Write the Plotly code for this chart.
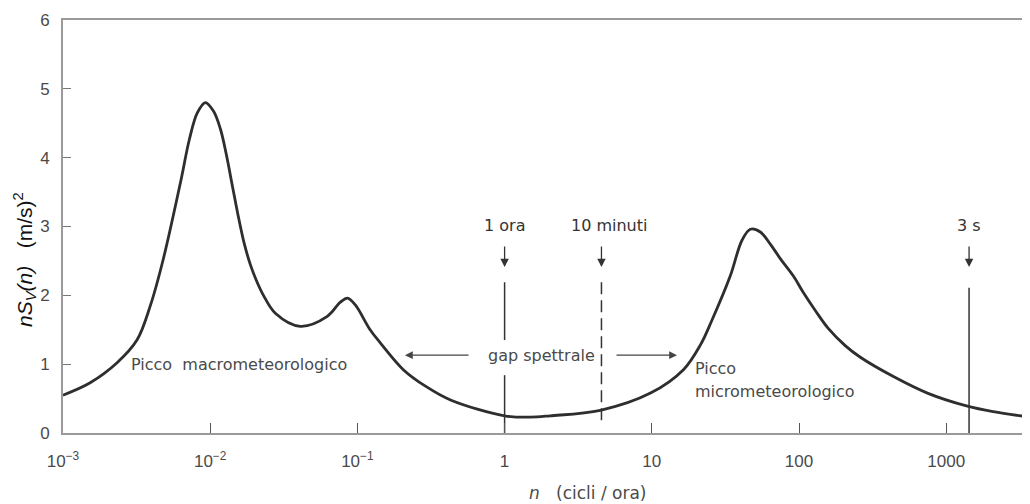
import numpy as np
import plotly.graph_objects as go

# ---- data ----
freq_n = [0.001, 0.00153, 0.00233, 0.00318, 0.00392, 0.00478, 0.00634, 0.00721,
          0.00817, 0.00927, 0.0105, 0.01172, 0.01286, 0.01412, 0.01551, 0.01704,
          0.01872, 0.02056, 0.0230, 0.0277, 0.0409, 0.0621, 0.0766, 0.0857,
          0.0968, 0.122, 0.143, 0.205, 0.29, 0.429, 1.0, 1.50, 2.04, 4.47, 9.8,
          16.4, 21.4, 25.4, 34.1, 41.0, 46.7, 54.6, 64.0, 74.8, 91.6, 107, 129,
          158, 206, 261, 438, 745, 1393, 2089, 3733]
spectrum = [0.55, 0.73, 1.02, 1.35, 1.85, 2.51, 3.68, 4.26,
            4.65, 4.80, 4.68, 4.42, 4.05, 3.60, 3.15, 2.75,
            2.45, 2.22, 2.00, 1.74, 1.55, 1.69, 1.90, 1.96,
            1.86, 1.50, 1.31, 0.92, 0.68, 0.48, 0.25, 0.23, 0.25, 0.33, 0.58,
            0.92, 1.28, 1.62, 2.28, 2.80, 2.96, 2.92, 2.74, 2.53, 2.28, 2.04, 1.78,
            1.52, 1.27, 1.10, 0.82, 0.58, 0.39, 0.31, 0.23]

x_tickvals = [0.001, 0.01, 0.1, 1, 10, 100, 1000]
x_ticktext = ["10<sup>−3</sup>", "10<sup>−2</sup>", "10<sup>−1</sup>", "1", "10", "100", "1000"]
y_tickvals = [0, 1, 2, 3, 4, 5, 6]

event_labels = ["1 ora", "10 minuti", "3 s"]
event_n = [1.0, 4.55, 1430.0]

GRAY_TXT = "#4a4a4a"
AX = "#9a9a9a"
FONT = "Liberation Sans"
LFONT = "DejaVu Sans"

fig = go.Figure()
fig.add_trace(go.Scatter(x=freq_n, y=spectrum, mode="lines",
                         line=dict(color="#2e2e2e", width=2.8, shape="spline", smoothing=1.0),
                         hoverinfo="skip", showlegend=False))

# vertical event lines
line_top = [2.19, 2.19, 2.11]
fig.add_trace(go.Scatter(x=[event_n[0]] * 2 + [None] + [event_n[0]] * 2,
                         y=[line_top[0], 1.35, None, 0.84, 0.0], mode="lines",
                         line=dict(color="#333", width=1.5), showlegend=False, hoverinfo="skip"))
fig.add_trace(go.Scatter(x=[event_n[1]] * 2, y=[line_top[1], 0.1], mode="lines",
                         line=dict(color="#333", width=1.5, dash="12px,6px"),
                         showlegend=False, hoverinfo="skip"))
fig.add_trace(go.Scatter(x=[event_n[2]] * 2, y=[line_top[2], 0.0], mode="lines",
                         line=dict(color="#333", width=1.5), showlegend=False, hoverinfo="skip"))

annotations = []
label_x_shift = [0, 0.05, 0.0]
for lab, n, dx in zip(event_labels, event_n, label_x_shift):
    lx = np.log10(n)
    annotations.append(dict(x=lx + dx, y=3.02, xref="x", yref="y", text=lab, showarrow=False,
                            font=dict(family=LFONT, size=16, color="#333")))
    annotations.append(dict(x=lx, y=2.41, ax=lx, ay=2.73, xref="x", yref="y", axref="x", ayref="y",
                            text="", showarrow=True, arrowhead=2, arrowsize=1.3, arrowwidth=1.3,
                            arrowcolor="#333"))

# gap spettrale
annotations.append(dict(x=0.252, y=1.13, xref="x", yref="y", text="gap spettrale",
                        showarrow=False, font=dict(family=LFONT, size=16, color=GRAY_TXT)))
annotations.append(dict(x=-0.677, y=1.13, ax=-0.235, ay=1.13, xref="x", yref="y", axref="x", ayref="y",
                        text="", showarrow=True, arrowhead=2, arrowsize=1.3, arrowwidth=1.2,
                        arrowcolor="#444"))
annotations.append(dict(x=1.171, y=1.13, ax=0.750, ay=1.13, xref="x", yref="y", axref="x", ayref="y",
                        text="", showarrow=True, arrowhead=2, arrowsize=1.3, arrowwidth=1.2,
                        arrowcolor="#444"))

annotations.append(dict(x=-2.552, y=0.99, xref="x", yref="y", xanchor="left",
                        text="Picco  macrometeorologico", showarrow=False,
                        font=dict(family=LFONT, size=16, color=GRAY_TXT)))
annotations.append(dict(x=1.280, y=0.94, xref="x", yref="y", xanchor="left",
                        text="Picco", showarrow=False,
                        font=dict(family=LFONT, size=16, color=GRAY_TXT)))
annotations.append(dict(x=1.280, y=0.60, xref="x", yref="y", xanchor="left",
                        text="micrometeorologico", showarrow=False,
                        font=dict(family=LFONT, size=16, color=GRAY_TXT)))

# axis titles (paper coords relative to plot area)
PW, PH = 975.0, 413.0
annotations.append(dict(x=(24 - 63) / PW, y=(433 - 260) / PH, xref="paper", yref="paper",
                        textangle=-90, xanchor="center", yanchor="middle",
                        text="<i>nS</i><sub><i>V</i></sub><i>(n)</i>   (m/s)<sup>2</sup>",
                        showarrow=False, font=dict(family=FONT, size=21, color="#111")))
annotations.append(dict(x=(587 - 63) / PW, y=(433 - 493) / PH, xref="paper", yref="paper",
                        xanchor="center", yanchor="middle",
                        text="<i>n</i>   (cicli / ora)", showarrow=False,
                        font=dict(family=LFONT, size=17, color=GRAY_TXT)))

# page body adds an 8px offset; margins compensate so the plot sits where the reference has it
fig.update_layout(
    width=1030, height=504,
    margin=dict(l=55, r=0, t=12, b=79),
    paper_bgcolor="white", plot_bgcolor="white",
    annotations=annotations,
    showlegend=False,
)
fig.update_xaxes(type="log", range=[-3, -3 + PW / 147.2], automargin=False,
                 tickvals=x_tickvals, ticktext=x_ticktext,
                 ticks="inside", ticklen=10, tickcolor="#555", tickwidth=1.2,
                 showline=True, linecolor=AX, linewidth=1.6, mirror=True,
                 showgrid=False, zeroline=False,
                 tickfont=dict(family=FONT, size=17, color=GRAY_TXT), ticklabelstandoff=12)
fig.update_yaxes(range=[0, 6], tickvals=y_tickvals, automargin=False,
                 ticks="inside", ticklen=8, tickcolor="#777", tickwidth=1.2,
                 showline=True, linecolor=AX, linewidth=1.6,
                 showgrid=False, zeroline=False,
                 tickfont=dict(family=FONT, size=17, color=GRAY_TXT), ticklabelstandoff=8)

fig.write_html("out.html")
